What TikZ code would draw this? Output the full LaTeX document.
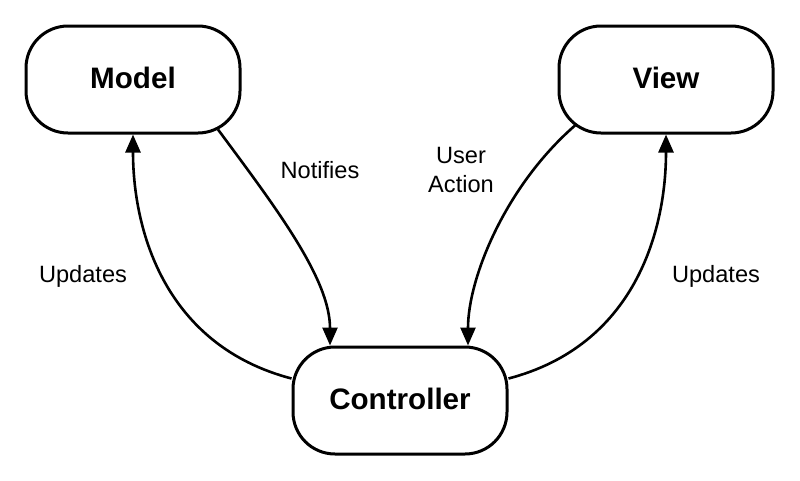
\documentclass[tikz,border=0pt]{standalone}
\usepackage{fontspec}
\setmainfont{Liberation Sans}
\usetikzlibrary{arrows.meta}
\tikzset{
  box/.style={draw=black, line width=3pt, rounded corners=42pt, minimum width=214pt, minimum height=107pt, inner sep=0pt, fill=white, font=\fontsize{29.6}{35}\selectfont\bfseries},
  conn/.style={line width=2.6pt, -{Triangle[length=18pt,width=15pt]}},
  lbl/.style={font=\fontsize{23.6}{29}\selectfont, align=center, inner sep=0pt}
}
\begin{document}
\begin{tikzpicture}[x=1pt,y=-1pt]
\useasboundingbox[fill=white] (0,0) rectangle (800,480);
\node[box] (model) at (133,79.5) {\raisebox{2.5pt}{Model}};
\node[box] (view) at (666,79.5) {\raisebox{2.5pt}{View}};
\node[box] (ctrl) at (400,400.5) {\raisebox{3pt}{Controller}};
\draw[conn] ([yshift=22pt]ctrl.west) .. controls +(-126,-33) and +(0,97) .. (model.south);
\draw[conn] ([xshift=85pt,yshift=5pt]model.south) .. controls +(57,77) and +(0,-67) .. ([xshift=-70pt]ctrl.north);
\draw[conn] ([xshift=-91pt,yshift=9pt]view.south) .. controls +(-70,61) and +(0,-67) .. ([xshift=68pt]ctrl.north);
\draw[conn] ([yshift=22pt]ctrl.east) .. controls +(126,-33) and +(0,97) .. (view.south);
\node[lbl] (lnot) at (320,170) {Notifies};
\node[lbl] (luser) at (461,170) {User\\Action};
\node[lbl] (lupl) at (83,276) {Updates};
\node[lbl] (lupr) at (716,276) {Updates};
\end{tikzpicture}
\end{document}
